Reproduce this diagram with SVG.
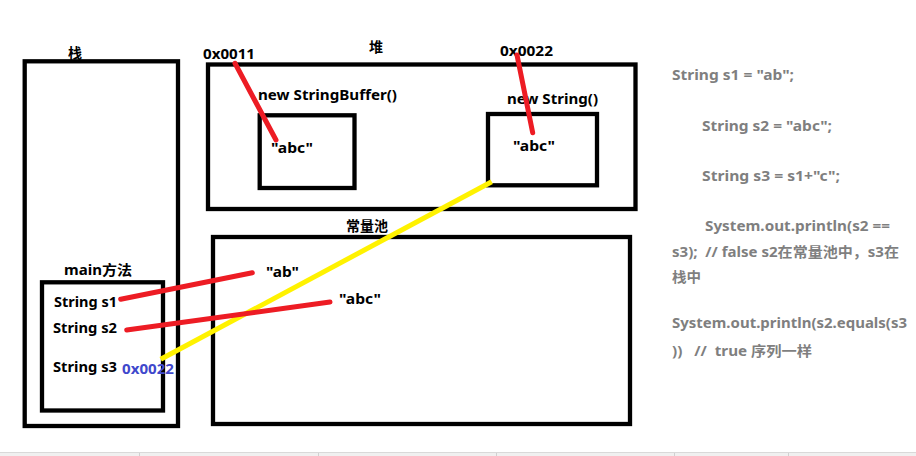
<svg xmlns="http://www.w3.org/2000/svg" width="916" height="456" viewBox="0 0 916 456">
<style>
.box{fill:none;stroke:#000;stroke-width:4.3}
.t{font-family:"Noto Sans","Noto Sans CJK SC",sans-serif;font-weight:bold;font-size:14px;fill:#000}
.c{font-family:"Noto Sans","Noto Sans CJK SC",sans-serif;font-weight:bold;font-size:14px;fill:#7f7f7f;white-space:pre}
.red{stroke:#ed1c24;stroke-width:5;stroke-linecap:round;fill:none}
.yel{stroke:#fff200;stroke-width:5;fill:none}
</style>
<rect width="916" height="456" fill="#fff"/>
<g id="bottom-bar">
<rect x="0" y="452" width="916" height="4" fill="#f0f0f0"/>
<line x1="0" y1="452.5" x2="916" y2="452.5" stroke="#d9d9d9" stroke-width="1"/>
<line x1="139.5" y1="453" x2="139.5" y2="456" stroke="#d0d0d0"/>
<line x1="318.5" y1="453" x2="318.5" y2="456" stroke="#d0d0d0"/>
<line x1="496.5" y1="453" x2="496.5" y2="456" stroke="#d0d0d0"/>
<line x1="674.5" y1="453" x2="674.5" y2="456" stroke="#d0d0d0"/>
<line x1="788.5" y1="453" x2="788.5" y2="456" stroke="#d0d0d0"/>
</g>
<g id="stack">
<rect class="box" x="24.7" y="61.3" width="153.3" height="364.7"/>
<text class="t" x="75" y="58" text-anchor="middle">栈</text>
</g>
<g id="heap">
<rect class="box" x="208" y="64.5" width="427.5" height="144.5"/>
<text class="t" x="376" y="52" text-anchor="middle">堆</text>
</g>
<g id="stringbuffer">
<rect class="box" x="259.7" y="115.3" width="94.8" height="72.7"/>
<text class="t" x="258" y="100" textLength="139" lengthAdjust="spacingAndGlyphs">new StringBuffer()</text>
<text class="t" x="271" y="153" textLength="42" lengthAdjust="spacingAndGlyphs">"abc"</text>
<text class="t" x="203" y="59" textLength="52" lengthAdjust="spacingAndGlyphs">0x0011</text>
</g>
<g id="string">
<rect class="box" x="488" y="114" width="109" height="71.3"/>
<text class="t" x="507" y="104" textLength="91" lengthAdjust="spacingAndGlyphs">new String()</text>
<text class="t" x="513" y="151" textLength="42" lengthAdjust="spacingAndGlyphs">"abc"</text>
<text class="t" x="500" y="56" textLength="53" lengthAdjust="spacingAndGlyphs">0x0022</text>
</g>
<g id="constant-pool">
<rect class="box" x="213" y="237" width="417" height="187"/>
<text class="t" x="367" y="231" text-anchor="middle">常量池</text>
<text class="t" x="266" y="277" textLength="33" lengthAdjust="spacingAndGlyphs">"ab"</text>
<text class="t" x="339" y="304" textLength="42" lengthAdjust="spacingAndGlyphs">"abc"</text>
</g>
<g id="main">
<rect class="box" x="42" y="282.3" width="121" height="128.2"/>
<text class="t" x="64" y="275" textLength="68" lengthAdjust="spacingAndGlyphs">main方法</text>
<text class="t" x="54" y="307" textLength="63" lengthAdjust="spacingAndGlyphs">String s1</text>
<text class="t" x="53" y="333" textLength="64" lengthAdjust="spacingAndGlyphs">String s2</text>
<text class="t" x="53" y="372" textLength="64" lengthAdjust="spacingAndGlyphs">String s3</text>
<text class="t" x="122" y="374" textLength="52" lengthAdjust="spacingAndGlyphs" style="fill:#3f48cc">0x0022</text>
</g>
<g id="connectors">
<line class="red" x1="235" y1="63.3" x2="276" y2="140"/>
<line class="red" x1="517" y1="55" x2="532.7" y2="132.7"/>
<line class="yel" x1="491.7" y1="181.7" x2="160.7" y2="359.3"/>
<line class="red" x1="120.7" y1="299.3" x2="252.3" y2="272.7"/>
<line class="red" x1="126.7" y1="330" x2="330" y2="302"/>
</g>
<g id="code">
<text class="c" x="672" y="80" textLength="122" lengthAdjust="spacingAndGlyphs">String s1 = "ab";</text>
<text class="c" x="702" y="131" textLength="130" lengthAdjust="spacingAndGlyphs">String s2 = "abc";</text>
<text class="c" x="702" y="181" textLength="138" lengthAdjust="spacingAndGlyphs">String s3 = s1+"c";</text>
<text class="c" x="705" y="231" textLength="185" lengthAdjust="spacingAndGlyphs">System.out.println(s2 ==</text>
<text class="c" x="672" y="257" textLength="227" lengthAdjust="spacingAndGlyphs">s3);  // false s2在常量池中，s3在</text>
<text class="c" x="672" y="282" textLength="29" lengthAdjust="spacingAndGlyphs">栈中</text>
<text class="c" x="672" y="328" textLength="235" lengthAdjust="spacingAndGlyphs">System.out.println(s2.equals(s3</text>
<text class="c" x="672" y="356" textLength="140" lengthAdjust="spacingAndGlyphs">))   //  true 序列一样</text>
</g>
</svg>
